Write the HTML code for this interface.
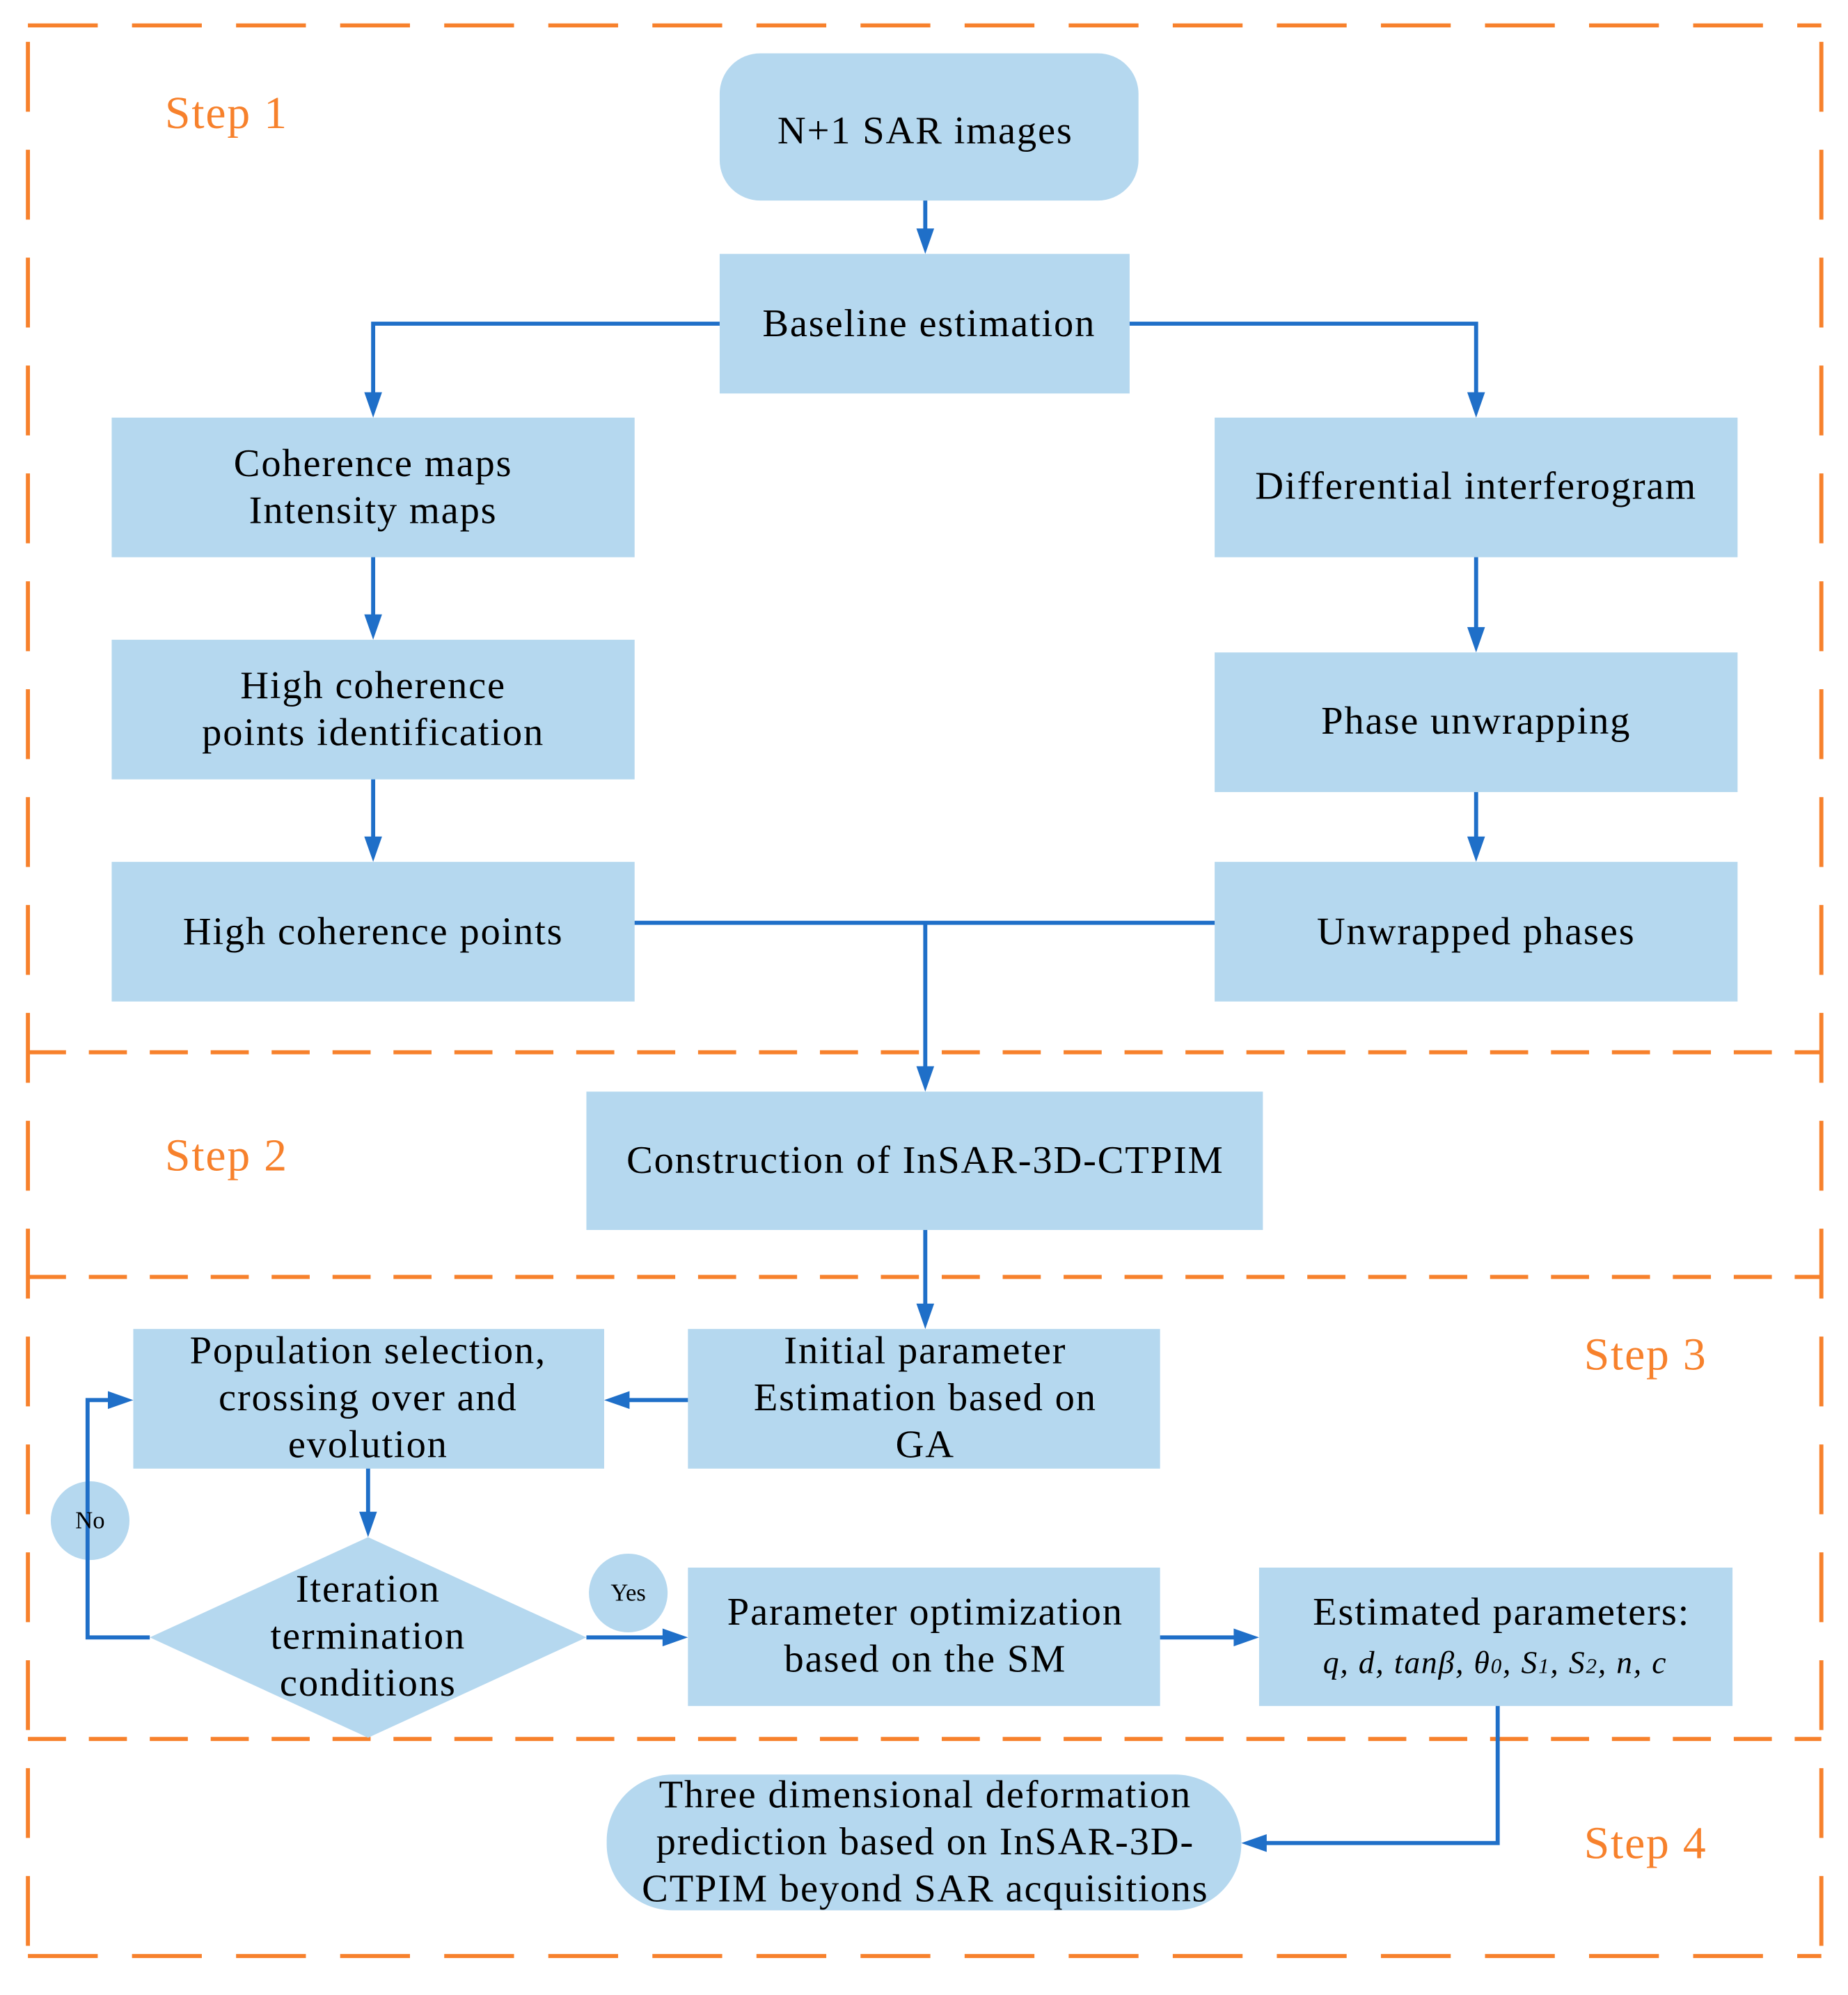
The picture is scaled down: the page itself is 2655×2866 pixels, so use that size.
<!DOCTYPE html>
<html><head><meta charset="utf-8"><style>
html,body{margin:0;padding:0;background:#fff}
svg{display:block}
text{font-family:"Liberation Serif",serif;fill:#000}
.t{font-size:31px;text-anchor:middle;letter-spacing:1px}
.s{font-size:36px;fill:#F7812C;letter-spacing:1px}
</style></head><body>
<svg width="2655" height="2866" viewBox="0 0 1456 1571.7" xmlns="http://www.w3.org/2000/svg">
<g stroke="#F7812C" stroke-width="3.2" fill="none">
<line x1="22" y1="20" x2="1435" y2="20" stroke-dasharray="55 27"/>
<line x1="22" y1="1541" x2="1435" y2="1541" stroke-dasharray="55 27"/>
<line x1="22" y1="829" x2="1435" y2="829" stroke-dasharray="30 18"/>
<line x1="22" y1="1006" x2="1435" y2="1006" stroke-dasharray="30 18"/>
<line x1="22" y1="1370" x2="1435" y2="1370" stroke-dasharray="30 18"/>
<line x1="22" y1="33" x2="22" y2="1541" stroke-dasharray="55 30"/>
<line x1="1435" y1="33" x2="1435" y2="1541" stroke-dasharray="55 30"/>
</g>
<text class="s" x="130" y="101">Step 1</text>
<text class="s" x="130" y="922">Step 2</text>
<text class="s" x="1248" y="1079">Step 3</text>
<text class="s" x="1248" y="1464">Step 4</text>
<g fill="#B5D8EF">
<rect x="567" y="42" width="330" height="116" rx="32"/>
<rect x="567" y="200" width="323" height="110"/>
<rect x="88" y="329" width="412" height="110"/>
<rect x="88" y="504" width="412" height="110"/>
<rect x="88" y="679" width="412" height="110"/>
<rect x="957" y="329" width="412" height="110"/>
<rect x="957" y="514" width="412" height="110"/>
<rect x="957" y="679" width="412" height="110"/>
<rect x="462" y="860" width="533" height="109"/>
<rect x="105" y="1047" width="371" height="110"/>
<rect x="542" y="1047" width="372" height="110"/>
<polygon points="118,1290 290,1211 462,1290 290,1369"/>
<rect x="542" y="1235" width="372" height="109"/>
<rect x="992" y="1235" width="373" height="109"/>
<rect x="478" y="1398" width="500" height="107" rx="52"/>
<ellipse cx="71" cy="1198" rx="31" ry="31"/>
<ellipse cx="495" cy="1255" rx="31" ry="31"/>
</g>
<g stroke="#1F6FC8" stroke-width="3.2" fill="none">
<polyline points="729,158 729,185"/>
<polyline points="567,255 294,255 294,314"/>
<polyline points="890,255 1163,255 1163,314"/>
<polyline points="294,439 294,489"/>
<polyline points="294,614 294,664"/>
<polyline points="1163,439 1163,499"/>
<polyline points="1163,624 1163,664"/>
<polyline points="500,727 957,727"/>
<polyline points="729,727 729,845"/>
<polyline points="729,969 729,1032"/>
<polyline points="542,1103 491,1103"/>
<polyline points="290,1157 290,1196"/>
<polyline points="118,1290 69,1290 69,1103 90,1103"/>
<polyline points="462,1290 527,1290"/>
<polyline points="914,1290 977,1290"/>
<polyline points="1180,1344 1180,1452 993,1452"/>
</g>
<g fill="#1F6FC8">
<polygon points="722,180 736,180 729,200"/>
<polygon points="287,309 301,309 294,329"/>
<polygon points="1156,309 1170,309 1163,329"/>
<polygon points="287,484 301,484 294,504"/>
<polygon points="287,659 301,659 294,679"/>
<polygon points="1156,494 1170,494 1163,514"/>
<polygon points="1156,659 1170,659 1163,679"/>
<polygon points="722,840 736,840 729,860"/>
<polygon points="722,1027 736,1027 729,1047"/>
<polygon points="496,1096 496,1110 476,1103"/>
<polygon points="283,1191 297,1191 290,1211"/>
<polygon points="85,1096 85,1110 105,1103"/>
<polygon points="522,1283 522,1297 542,1290"/>
<polygon points="972,1283 972,1297 992,1290"/>
<polygon points="998,1445 998,1459 978,1452"/>
</g>
<text class="t" x="729" y="113">N+1 SAR images</text>
<text class="t" x="732" y="265">Baseline estimation</text>
<text class="t" x="294" y="375">Coherence maps</text>
<text class="t" x="294" y="412">Intensity maps</text>
<text class="t" x="294" y="550">High coherence</text>
<text class="t" x="294" y="587">points identification</text>
<text class="t" x="294" y="744">High coherence points</text>
<text class="t" x="1163" y="393">Differential interferogram</text>
<text class="t" x="1163" y="578">Phase unwrapping</text>
<text class="t" x="1163" y="744">Unwrapped phases</text>
<text class="t" x="729" y="924">Construction of InSAR-3D-CTPIM</text>
<text class="t" x="290" y="1074">Population selection,</text>
<text class="t" x="290" y="1111">crossing over and</text>
<text class="t" x="290" y="1148">evolution</text>
<text class="t" x="729" y="1074">Initial parameter</text>
<text class="t" x="729" y="1111">Estimation based on</text>
<text class="t" x="729" y="1148">GA</text>
<text class="t" x="290" y="1262">Iteration</text>
<text class="t" x="290" y="1299">termination</text>
<text class="t" x="290" y="1336">conditions</text>
<text class="t" x="729" y="1280">Parameter optimization</text>
<text class="t" x="729" y="1317">based on the  SM</text>
<text class="t" x="1183" y="1280">Estimated parameters:</text>
<text class="t" x="1178" y="1318" style="font-size:25px;font-style:italic">q, d, tanβ, θ<tspan font-size="17">0</tspan>, S<tspan font-size="17">1</tspan>, S<tspan font-size="17">2</tspan>, n, c</text>
<text class="t" x="729" y="1424">Three dimensional deformation</text>
<text class="t" x="729" y="1461">prediction based on InSAR-3D-</text>
<text class="t" x="729" y="1498">CTPIM beyond SAR acquisitions</text>
<text x="71" y="1204" style="font-size:19px;text-anchor:middle">No</text>
<text x="495" y="1261" style="font-size:19px;text-anchor:middle">Yes</text>
</svg>
</body></html>
